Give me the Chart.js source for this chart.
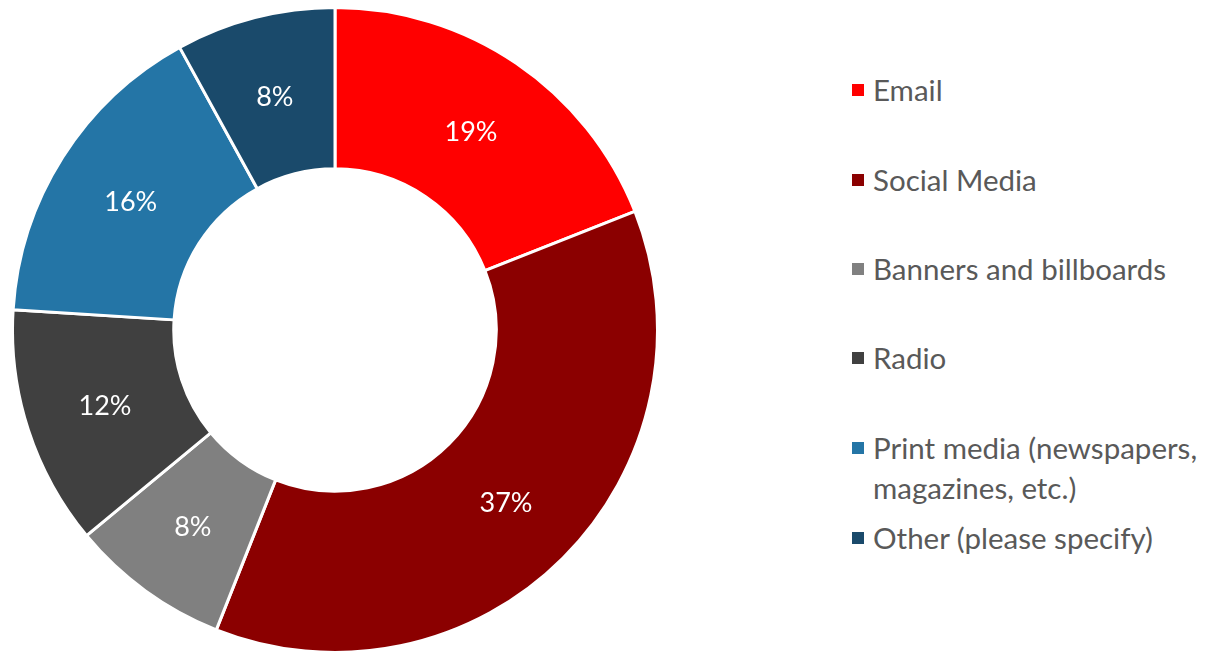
<!DOCTYPE html>
<html>
<head>
<meta charset="utf-8">
<script src="https://cdn.jsdelivr.net/npm/chart.js@4.4.1/dist/chart.umd.min.js"></script>
<style>
  html, body { margin: 0; padding: 0; background: #ffffff; }
  #wrap { position: relative; width: 1206px; height: 651px; overflow: hidden; }
  #chartBox { position: absolute; left: 11px; top: 6px; width: 648px; height: 648px; }
  #legend { position: absolute; left: 852px; top: 0; font-family: Lato, "Open Sans", sans-serif; font-size: 29.5px; color: #595959; }
  .item { position: absolute; left: 0; white-space: nowrap; line-height: 40px; }
  .sw { position: absolute; left: 0; top: 14px; width: 12px; height: 12px; }
  .txt { position: absolute; left: 21px; top: 0; }
</style>
</head>
<body>
<div id="wrap">
  <div id="chartBox"><canvas id="c"></canvas></div>
  <div id="legend"></div>
</div>
<script>
const categories = ["Email", "Social Media", "Banners and billboards", "Radio", "Print media (newspapers,\nmagazines, etc.)", "Other (please specify)"];
const shares = [19, 37, 8, 12, 16, 8];
const colors = ["#FF0000", "#8B0000", "#808080", "#404040", "#2475A6", "#1A4A6B"];
const legendTops = [70, 160, 249, 338, 428, 518];

const labelPlugin = {
  id: 'sliceLabels',
  afterDatasetsDraw(chart) {
    const ctx = chart.ctx;
    const meta = chart.getDatasetMeta(0);
    ctx.save();
    ctx.fillStyle = '#ffffff';
    ctx.font = '27px Lato, "Open Sans", sans-serif';
    ctx.textAlign = 'center';
    ctx.textBaseline = 'middle';
    meta.data.forEach((arc, i) => {
      const p = arc.tooltipPosition();
      ctx.fillText(shares[i] + '%', p.x, p.y + 2);
    });
    ctx.restore();
  }
};

new Chart(document.getElementById('c'), {
  type: 'doughnut',
  data: {
    labels: categories,
    datasets: [{
      data: shares,
      backgroundColor: colors,
      borderColor: '#ffffff',
      borderWidth: 3,
      hoverOffset: 0
    }]
  },
  options: {
    responsive: true,
    maintainAspectRatio: false,
    animation: false,
    cutout: '50%',
    layout: { padding: 0 },
    plugins: { legend: { display: false }, tooltip: { enabled: false } }
  },
  plugins: [labelPlugin]
});

const lg = document.getElementById('legend');
categories.forEach((name, i) => {
  const it = document.createElement('div');
  it.className = 'item';
  it.style.top = legendTops[i] + 'px';
  const sw = document.createElement('div');
  sw.className = 'sw';
  sw.style.background = colors[i];
  const t = document.createElement('div');
  t.className = 'txt';
  t.innerHTML = name.split('\n').join('<br>');
  it.appendChild(sw);
  it.appendChild(t);
  lg.appendChild(it);
});
</script>
</body>
</html>
